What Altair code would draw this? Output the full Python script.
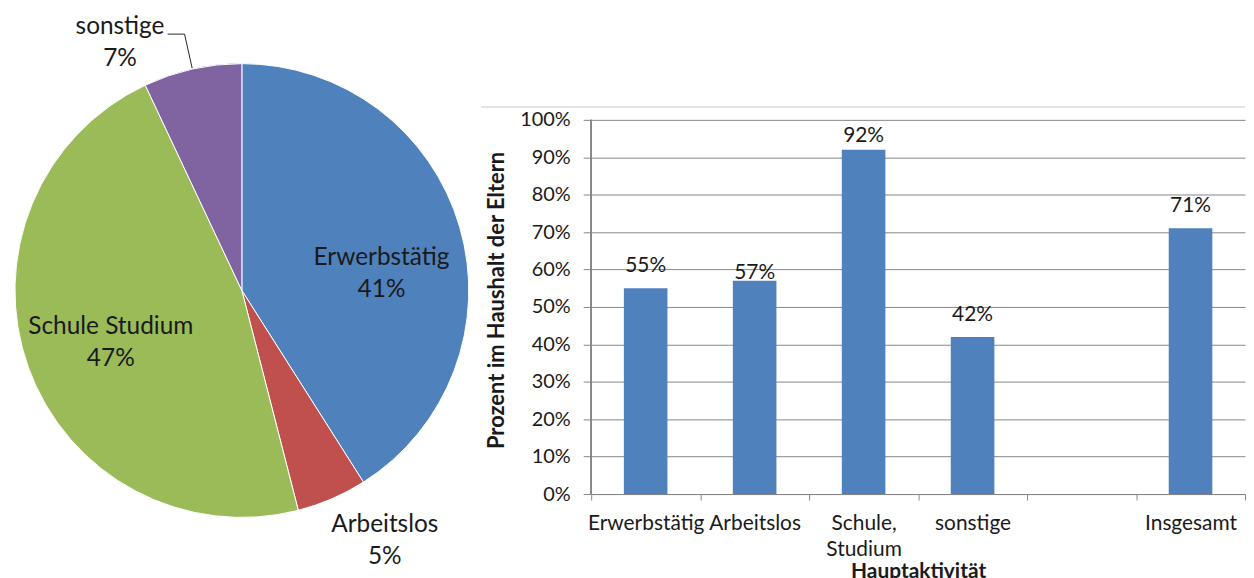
import altair as alt
import pandas as pd

FONT = "Lato"
TXT = "#1a1a1a"
GRID = "#868686"

# ---------- data ----------
pie_cats = ["Erwerbstätig", "Arbeitslos", "Schule Studium", "sonstige"]
pie_vals = [41, 5, 47, 7]
pie_colors = ["#4F81BD", "#C0504D", "#9BBB59", "#8064A2"]

bar_cats = ["Erwerbstätig", "Arbeitslos", "Schule, Studium", "sonstige", " ", "Insgesamt"]
bar_vals = [0.55, 0.57, 0.92, 0.42, None, 0.71]
y_ticks = [0, 0.1, 0.2, 0.3, 0.4, 0.5, 0.6, 0.7, 0.8, 0.9, 1.0]

pie_df = pd.DataFrame({
    "cat": pie_cats,
    "val": pie_vals,
    "idx": list(range(len(pie_cats))),
    "label": [f"{c}\n{v}%" for c, v in zip(pie_cats, pie_vals)],
})
bar_df = pd.DataFrame({"cat": bar_cats, "val": bar_vals})

# ---------- pie ----------
PW, PH = 452, 555
R = 228
theta_scale = alt.Scale(domain=[0, 100], zero=True, nice=False)

arcs = alt.Chart(pie_df).mark_arc(outerRadius=R, stroke="white", strokeWidth=1).encode(
    theta=alt.Theta("val:Q", stack=True, scale=theta_scale),
    order=alt.Order("idx:Q"),
    color=alt.Color("cat:N", scale=alt.Scale(domain=pie_cats, range=pie_colors), legend=None),
)

# mid-angle of each slice, computed from the values
mid_base = alt.Chart(pie_df).transform_window(
    cum="sum(val)", sort=[alt.SortField("idx")], frame=[None, 0]
).transform_joinaggregate(
    total="sum(val)"
).transform_calculate(
    midv="(datum.cum - datum.val / 2) / datum.total * 100",
    mid="(datum.cum - datum.val / 2) / datum.total * 2 * PI",
)


def pie_label(cat, radius, dx, dy):
    return mid_base.transform_filter(alt.datum.cat == cat).mark_text(
        radius=radius, dx=dx, dy=dy, font=FONT, fontSize=24.5, lineHeight=32,
        lineBreak="\n", align="center", baseline="middle", color=TXT,
    ).encode(
        theta=alt.Theta("midv:Q", stack=None, scale=theta_scale),
        text="label:N",
    )


lab_e = pie_label("Erwerbstätig", 143, 3, 7)
lab_a = pie_label("Arbeitslos", 291, 28, -31)
lab_s = pie_label("Schule Studium", 140, 0, -11)
lab_o = pie_label("sonstige", 277, -62, 6)

leader = mid_base.transform_filter(
    alt.datum.cat == "sonstige"
).transform_calculate(
    x1=f"{PW / 2} + {R + 1} * sin(datum.mid)",
    y1=f"{PH / 2} - {R + 1} * cos(datum.mid)",
    x2=f"{PW / 2} + 264 * sin(datum.mid)",
    y2=f"{PH / 2} - 264 * cos(datum.mid)",
    x3=f"{PW / 2} + 264 * sin(datum.mid) - 17",
)
seg1 = leader.mark_rule(color="#262626", strokeWidth=1).encode(
    x=alt.X("x1:Q", scale=None), y=alt.Y("y1:Q", scale=None), x2="x2:Q", y2="y2:Q"
)
seg2 = leader.mark_rule(color="#262626", strokeWidth=1).encode(
    x=alt.X("x2:Q", scale=None), y=alt.Y("y2:Q", scale=None), x2="x3:Q", y2="y2:Q"
)

pie = alt.layer(arcs, lab_e, lab_a, lab_s, lab_o, seg1, seg2).properties(width=PW, height=PH)

# ---------- bars ----------
BW, BH = 657, 482
SPAN = 376  # pixel height of 0..100 %
ymax = BH / SPAN

x_enc = alt.X(
    "cat:N", sort=bar_cats,
    scale=alt.Scale(domain=bar_cats, paddingInner=0, paddingOuter=0),
    axis=alt.Axis(
        title="Hauptaktivität", labelAngle=0, tickBand="extent",
        labelExpr="datum.value == 'Schule, Studium' ? ['Schule,', 'Studium'] : datum.label",
        labelFont=FONT, labelFontSize=21, labelColor=TXT, labelLineHeight=26,
        labelPadding=13, labelBaseline="top",
        tickSize=6, tickColor=GRID, domainColor=GRID,
        titleFont=FONT, titleFontSize=21, titleFontWeight="bold", titleColor=TXT,
        titleX=BW / 2, titleY=67, titleBaseline="top", titleAlign="center",
        grid=False,
    ),
)
y_enc = alt.Y(
    "val:Q",
    scale=alt.Scale(domain=[0, ymax], nice=False, zero=True),
    axis=alt.Axis(
        values=y_ticks, format=".0%", title="Prozent im Haushalt der Eltern",
        labelFont=FONT, labelFontSize=20, labelColor=TXT, labelPadding=13,
        tickSize=8, tickColor=GRID, domain=False,
        grid=True, gridColor=GRID, gridWidth=1,
        titleFont=FONT, titleFontSize=22, titleFontWeight="bold", titleColor=TXT,
        titleAngle=270, titleX=-83, titleY=287, titleBaseline="bottom", titleAlign="center",
    ),
)

bars = alt.Chart(bar_df).mark_bar(color="#4F81BD", width=alt.RelativeBandSize(0.4)).encode(
    x=x_enc, y=y_enc
)


def bar_text(cats, dy):
    return alt.Chart(bar_df).transform_filter(
        alt.FieldOneOfPredicate(field="cat", oneOf=cats)
    ).mark_text(
        baseline="alphabetic", dy=dy, font=FONT, fontSize=21, color=TXT
    ).encode(x=x_enc, y=y_enc, text=alt.Text("val:Q", format=".0%"))


t1 = bar_text(["Erwerbstätig", "sonstige", "Insgesamt"], -16)
t2 = bar_text(["Arbeitslos"], -2)
t3 = bar_text(["Schule, Studium"], -8)

yline = alt.Chart(bar_df).mark_rule(color=GRID, strokeWidth=1).encode(
    x=alt.value(0), y=alt.datum(0), y2=alt.datum(1)
)
border = alt.Chart(bar_df).mark_rule(color="#e3e3e3", strokeWidth=1).encode(
    x=alt.value(-110), x2=alt.value(BW), y=alt.value(93)
)

bar = alt.layer(border, bars, t1, t2, t3, yline).properties(width=BW, height=BH)

chart = alt.hconcat(pie, bar, spacing=125, bounds="flush").configure_view(
    stroke=None
).properties(
    padding={"left": 5, "top": 5, "right": 0, "bottom": 0}
)

chart.save("out.html", embed_options={"renderer": "svg", "actions": False})
